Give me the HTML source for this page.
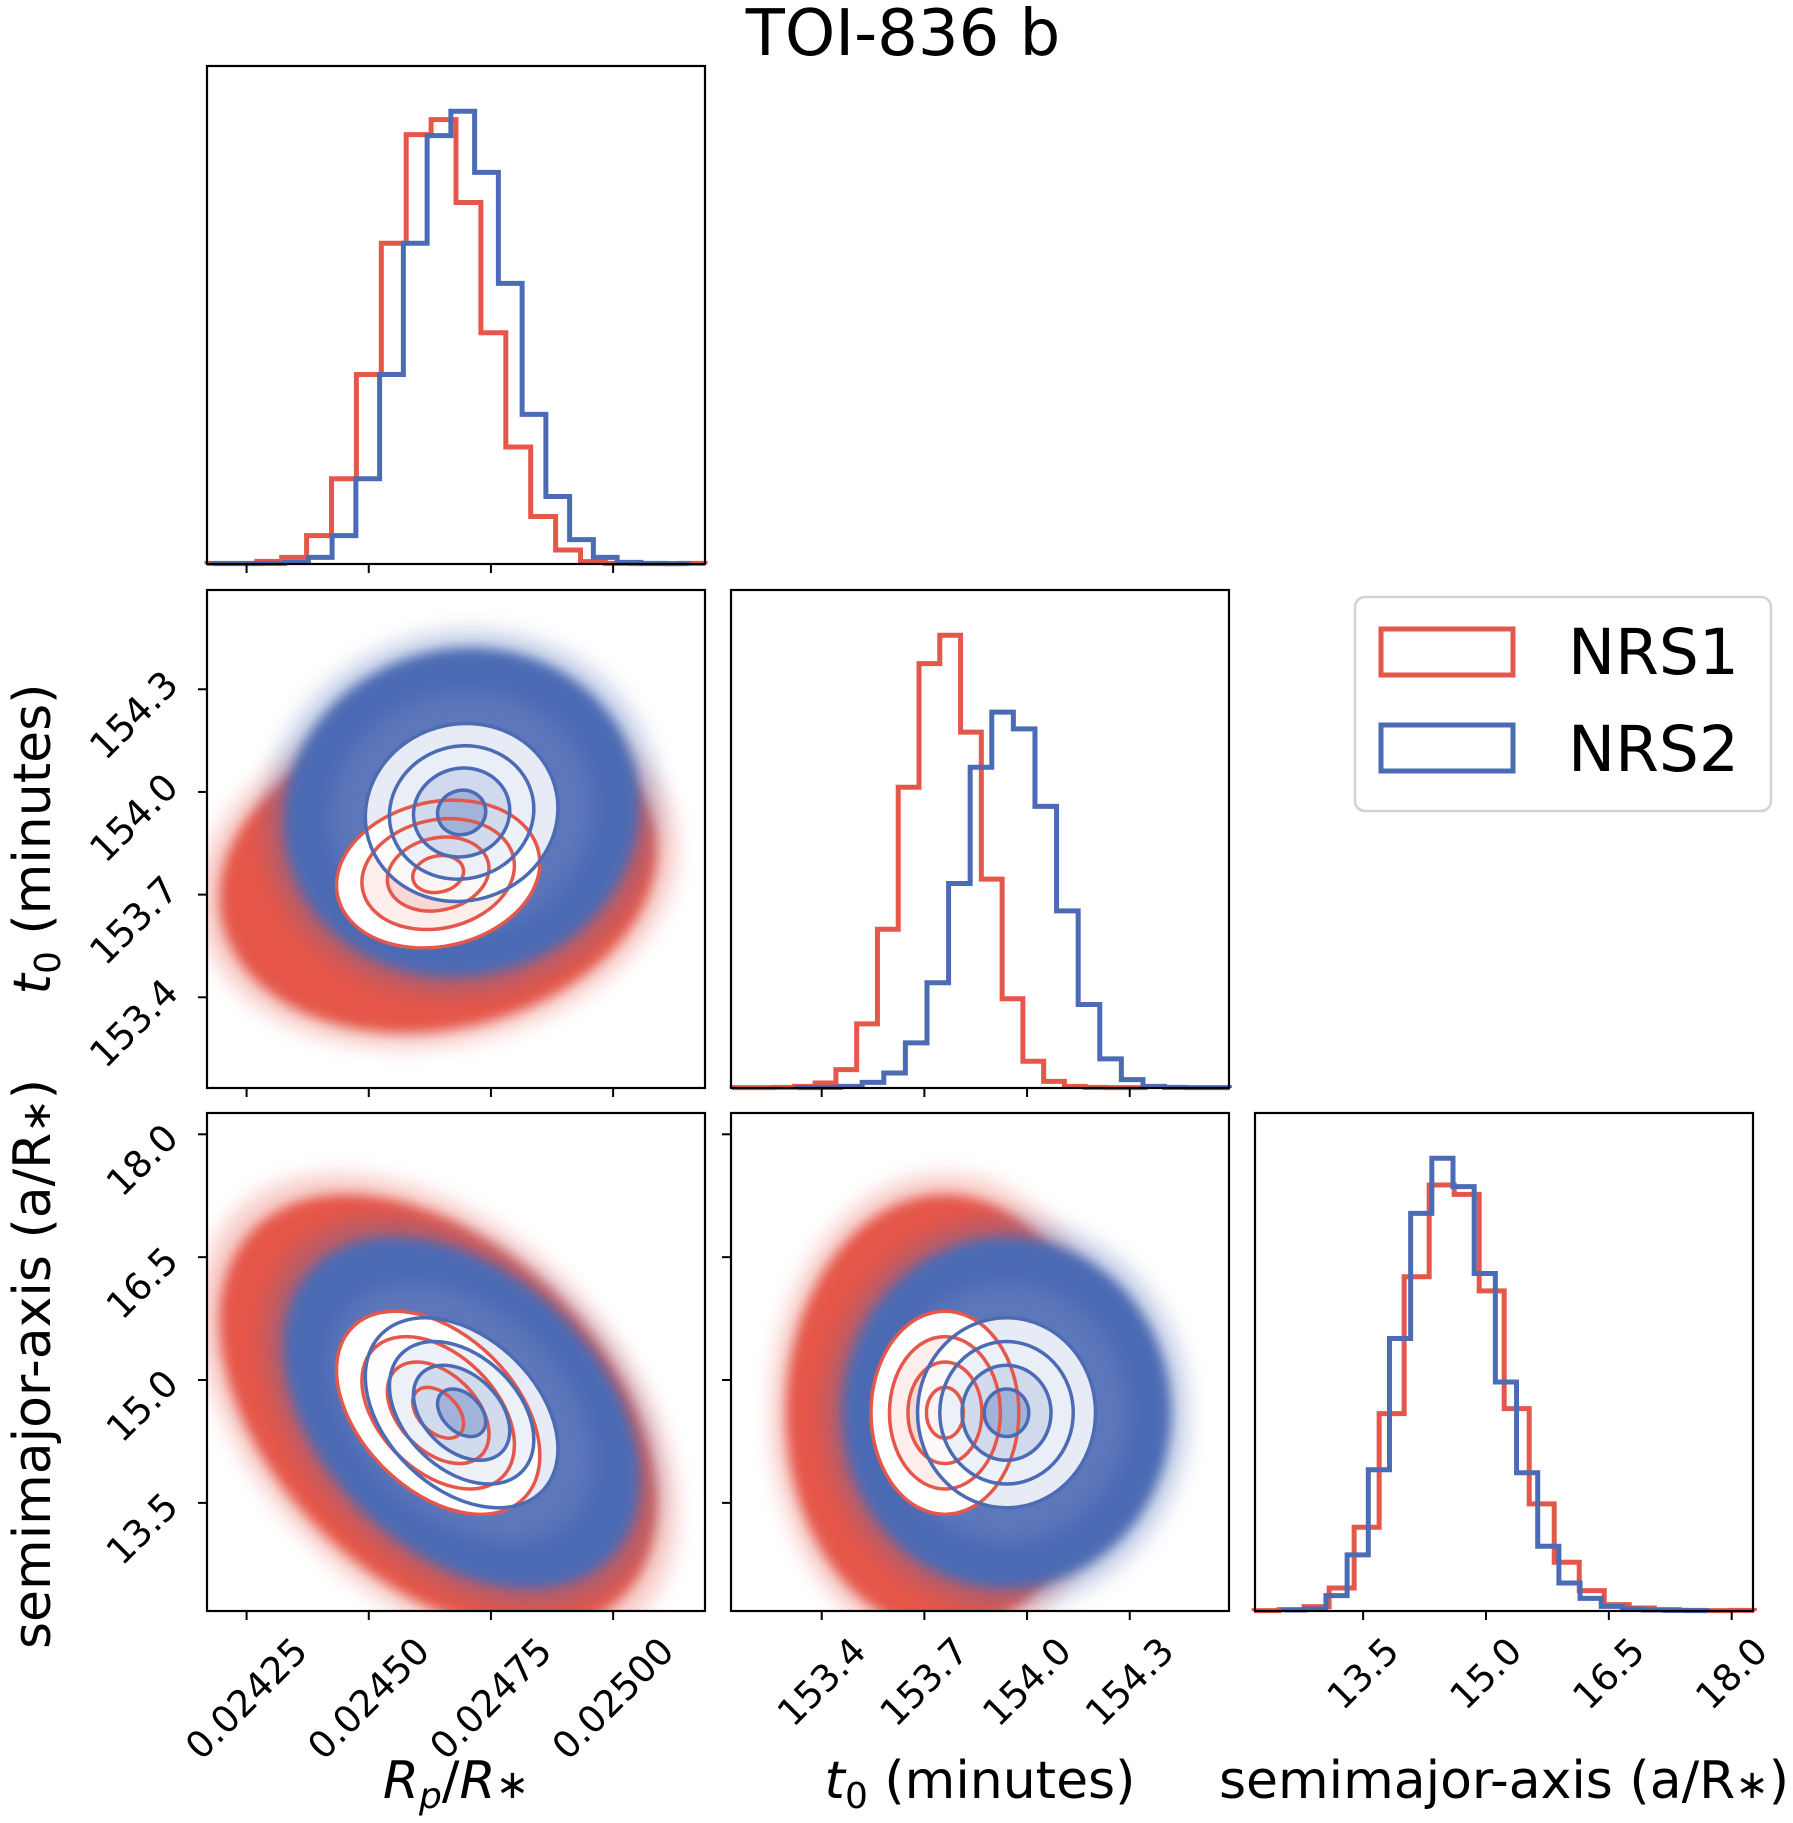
<!DOCTYPE html>
<html><head><meta charset="utf-8"><style>
html,body{margin:0;padding:0;background:#fff;}
svg{display:block;font-family:"DejaVu Sans","Liberation Sans",sans-serif;}
</style></head><body>
<svg id="fig" xmlns="http://www.w3.org/2000/svg" width="1793" height="1823" viewBox="0 0 1793 1823">
<defs>
<filter id="fuzz" x="-20%" y="-20%" width="140%" height="140%"><feGaussianBlur stdDeviation="6"/></filter>
<filter id="soft" x="-20%" y="-20%" width="140%" height="140%"><feGaussianBlur stdDeviation="10"/></filter>
</defs>
<text x="903" y="55" font-size="64" text-anchor="middle">TOI-836 b</text>
<g>
<rect x="1355" y="597" width="416" height="214" rx="10" fill="#fff" stroke="#d3d3d3" stroke-width="2.5"/>
<rect x="1381" y="629" width="132" height="46" fill="none" stroke="#e5574a" stroke-width="5"/>
<text x="1568" y="674" font-size="63">NRS1</text>
<rect x="1381" y="725" width="132" height="46" fill="none" stroke="#4b6bb4" stroke-width="5"/>
<text x="1568" y="771" font-size="63">NRS2</text>
</g>
<text x="456" y="1798" font-size="52" text-anchor="middle"><tspan font-style="italic">R</tspan><tspan font-style="italic" font-size="36" dy="10">p</tspan><tspan dy="-10">/</tspan><tspan font-style="italic">R</tspan><tspan font-size="40">∗</tspan></text>
<text x="980" y="1798" font-size="52" text-anchor="middle"><tspan font-style="italic">t</tspan><tspan font-size="36" dy="10">0</tspan><tspan dy="-10"> (minutes)</tspan></text>
<text x="1504" y="1798" font-size="52" text-anchor="middle">semimajor-axis (a/R<tspan font-size="40">∗</tspan>)</text>
<text transform="translate(50,839) rotate(-90)" font-size="52" text-anchor="middle"><tspan font-style="italic">t</tspan><tspan font-size="36" dy="10">0</tspan><tspan dy="-10"> (minutes)</tspan></text>
<text transform="translate(50,1364) rotate(-90)" font-size="52" text-anchor="middle">semimajor-axis (a/R<tspan font-size="40">∗</tspan>)</text>
</svg>
<script>
// ---- data ----
const paramNames = ["rp", "t0", "a"];
const rangeRp = [0.024169, 0.025188];
const rangeT0 = [153.135, 154.59];
const rangeA = [12.18, 18.26];
const ticksRp = [0.02425, 0.02450, 0.02475, 0.02500];
const tickLabelsRp = ["0.02425", "0.02450", "0.02475", "0.02500"];
const ticksT0 = [153.4, 153.7, 154.0, 154.3];
const tickLabelsT0 = ["153.4", "153.7", "154.0", "154.3"];
const ticksA = [13.5, 15.0, 16.5, 18.0];
const tickLabelsA = ["13.5", "15.0", "16.5", "18.0"];
// histograms (relative counts, 20 bins each)
const histRpRedRange = [0.024169, 0.025188];
const histRpRed = [2,2,8,20,85,255,567,960,1285,1330,1082,692,350,142,42,7,2,1,1,2];
const histRpBlueRange = [0.024182, 0.025154];
const histRpBlue = [1,1,2,5,20,85,255,567,960,1282,1355,1172,840,448,202,73,20,5,2,1];
const histT0RedRange = [153.138, 154.352];
const histT0Red = [1,1,2,5,15,55,192,475,900,1270,1355,1065,625,267,80,20,5,2,1,1];
const histT0BlueRange = [153.329, 154.591];
const histT0Blue = [1,2,5,17,45,135,315,612,960,1125,1075,843,530,250,87,25,5,2,1,1];
const histARedRange = [12.169, 18.276];
const histARed = [1,4,13,69,251,591,1001,1276,1248,959,606,321,146,61,19,9,4,2,1,2];
const histABlueRange = [12.529, 17.70];
const histABlue = [3,6,46,168,423,816,1191,1356,1271,1011,686,414,194,84,38,14,6,3,2,1];
// posterior summaries: [rp, t0, a]
const meanRed = [0.024642, 153.76, 14.6];
const sdRed = [0.000104, 0.108, 0.62];
const meanBlue = [0.02469, 153.94, 14.6];
const sdBlue = [0.0000985, 0.13, 0.58];
// correlations: [rp-t0, rp-a, t0-a]
const corrRed = [0.15, -0.42, 0.0];
const corrBlue = [0.05, -0.38, 0.0];
const contourLevels = [2, 1.5, 1, 0.5];
const cloudRadius = [4.3, 3.7];

// ---- layout ----
const NS = "http://www.w3.org/2000/svg";
const svg = document.getElementById("fig");
const colX = [207, 731, 1255], rowY = [66, 590, 1113], S = 498;
const ranges = [rangeRp, rangeT0, rangeA];
const ticks = [ticksRp, ticksT0, ticksA];
const tickLabels = [tickLabelsRp, tickLabelsT0, tickLabelsA];
const RED = "#e5574a", BLUE = "#4b6bb4";
function xScale(p, v) { const r = ranges[p]; return colX[p] + (v - r[0]) / (r[1] - r[0]) * S; }
function yScale(p, row, v) { const r = ranges[p]; return rowY[row] + S - (v - r[0]) / (r[1] - r[0]) * S; }
function mk(tag, attrs, parent) {
  const e = document.createElementNS(NS, tag);
  for (const k in attrs) e.setAttribute(k, attrs[k]);
  (parent || svg).appendChild(e);
  return e;
}
function corrIndex(i, j) { if (i === 0 && j === 1) return 0; if (i === 0 && j === 2) return 1; return 2; }

function drawHist(p, counts, rng, color, g, ymax) {
  const n = counts.length, bottom = rowY[p] + S;
  const yv = c => bottom - c / ymax * S;
  let d = "M" + xScale(p, rng[0]) + "," + bottom;
  for (let k = 0; k < n; k++) {
    const x0 = xScale(p, rng[0] + (rng[1] - rng[0]) * k / n);
    const x1 = xScale(p, rng[0] + (rng[1] - rng[0]) * (k + 1) / n);
    d += " L" + x0 + "," + yv(counts[k]) + " L" + x1 + "," + yv(counts[k]);
  }
  d += " L" + xScale(p, rng[1]) + "," + bottom;
  const path = mk("path", { d: d, fill: "none", stroke: color, "stroke-width": 5, "stroke-linejoin": "miter" }, g);
  
  
}

function ellipseFor(i, j, row, mean, sd, corr, r) {
  const cx = xScale(i, mean[i]), cy = yScale(j, row, mean[j]);
  const kx = S / (ranges[i][1] - ranges[i][0]), ky = -S / (ranges[j][1] - ranges[j][0]);
  const sx = sd[i] * kx, sy = sd[j] * ky;
  const rho = corr[corrIndex(i, j)];
  const a = sx * sx, b = sy * sy, c = rho * sx * sy;
  const th = 0.5 * Math.atan2(2 * c, a - b);
  const m = (a + b) / 2, q = Math.sqrt(((a - b) / 2) ** 2 + c * c);
  return { cx: cx, cy: cy, rx: r * Math.sqrt(m + q), ry: r * Math.sqrt(Math.max(m - q, 1)), ang: th * 180 / Math.PI };
}
function drawEllipse(g, E, attrs, name) {
  const e = mk("ellipse", Object.assign({ cx: E.cx, cy: E.cy, rx: E.rx, ry: E.ry, transform: "rotate(" + E.ang + " " + E.cx + " " + E.cy + ")" }, attrs), g);
  
  
  return e;
}

function frame(col, row, name) {
  const r = mk("rect", { x: colX[col], y: rowY[row], width: S, height: S, fill: "none", stroke: "#000", "stroke-width": 2.2 });
  
  
}
function xTicks(col, row, labels) {
  const yb = rowY[row] + S;
  ticks[col].forEach((v, k) => {
    const x = xScale(col, v);
    const t = mk("line", { x1: x, x2: x, y1: yb, y2: yb + 9, stroke: "#000", "stroke-width": 2 });
    
    
    if (labels) {
      const tx = mk("text", { "font-size": 37, "text-anchor": "middle", "dominant-baseline": "central" });
      tx.textContent = tickLabels[col][k];
      
      
      const W = tx.getComputedTextLength(), H = 27;
      const bh = (W + H) / Math.SQRT2;
      const cy = yb + 24 + bh / 2;
      tx.setAttribute("x", x); tx.setAttribute("y", cy);
      tx.setAttribute("transform", "rotate(-45 " + x + " " + cy + ")");
    }
  });
}
function yTicks(p, col, row, labels) {
  const xl = colX[col];
  ticks[p].forEach((v, k) => {
    const y = yScale(p, row, v);
    const t = mk("line", { x1: xl - 9, x2: xl, y1: y, y2: y, stroke: "#000", "stroke-width": 2 });
    
    
    if (labels) {
      const tx = mk("text", { "font-size": 37, "text-anchor": "middle", "dominant-baseline": "central" });
      tx.textContent = tickLabels[p][k];
      
      
      const W = tx.getComputedTextLength(), H = 27;
      const bw = (W + H) / Math.SQRT2;
      const cx = xl - 26 - bw / 2, cy = y + 26;
      tx.setAttribute("x", cx); tx.setAttribute("y", cy);
      tx.setAttribute("transform", "rotate(-45 " + cx + " " + cy + ")");
    }
  });
}

// ---- 1D histograms ----
const hists = [
  [histRpRed, histRpRedRange, histRpBlue, histRpBlueRange],
  [histT0Red, histT0RedRange, histT0Blue, histT0BlueRange],
  [histARed, histARedRange, histABlue, histABlueRange]
];
hists.forEach((h, p) => {
  const g = mk("g", {});
  
  
  const ymax = 1.1 * Math.max(...h[0], ...h[2]);
  drawHist(p, h[0], h[1], RED, g, ymax);
  drawHist(p, h[2], h[3], BLUE, g, ymax);
  frame(p, p, 'histogram-' + paramNames[p]);
  xTicks(p, p, p === 2);
});

// ---- 2D panels ----
const pairs = [[0, 1], [0, 2], [1, 2]];
pairs.forEach(([i, j], n) => {
  const row = j, col = i;
  const cid = "clip" + n;
  const cp = mk("clipPath", { id: cid });
  mk("rect", { x: colX[col], y: rowY[row], width: S, height: S }, cp);
  const g = mk("g", { "clip-path": "url(#" + cid + ")" });
  
  
  const sets = [[meanRed, sdRed, corrRed, RED, 'nrs1'], [meanBlue, sdBlue, corrBlue, BLUE, 'nrs2']];
  sets.forEach((s, k) => {
    drawEllipse(g, ellipseFor(i, j, row, s[0], s[1], s[2], cloudRadius[k] + 0.4), { fill: s[3], opacity: 0.3, filter: "url(#soft)" }, 'sample-halo-' + s[4]);
    drawEllipse(g, ellipseFor(i, j, row, s[0], s[1], s[2], cloudRadius[k]), { fill: s[3], filter: "url(#fuzz)" }, 'sample-cloud-' + s[4]);
  });
  drawEllipse(g, ellipseFor(i, j, row, meanBlue, sdBlue, corrBlue, 2.7), { fill: "#7487c4", opacity: 0.45, filter: "url(#soft)" }, 'density-nrs2');
  const fillsRed = ["#ffffff", "#fdeeec", "#f9d8d4", "#f2b1aa"];
  const fillsBlue = ["#ffffff", "#eaeef7", "#ccd6eb", "#9aacd6"];
  contourLevels.forEach((r, k) => drawEllipse(g, ellipseFor(i, j, row, meanRed, sdRed, corrRed, r), { fill: fillsRed[k] }, 'contour-fill-nrs1'));
  contourLevels.forEach((r, k) => drawEllipse(g, ellipseFor(i, j, row, meanBlue, sdBlue, corrBlue, r), { fill: fillsBlue[k], opacity: 0.85 }, 'contour-fill-nrs2'));
  contourLevels.forEach(r => drawEllipse(g, ellipseFor(i, j, row, meanRed, sdRed, corrRed, r), { fill: "none", stroke: RED, "stroke-width": 3.5 }, 'contour-line-nrs1'));
  contourLevels.forEach(r => drawEllipse(g, ellipseFor(i, j, row, meanBlue, sdBlue, corrBlue, r), { fill: "none", stroke: BLUE, "stroke-width": 3.5 }, 'contour-line-nrs2'));
  frame(col, row, 'scatter-' + paramNames[i] + '-' + paramNames[j]);
  xTicks(col, row, row === 2);
  yTicks(j, col, row, col === 0);
});
</script>
</body></html>
